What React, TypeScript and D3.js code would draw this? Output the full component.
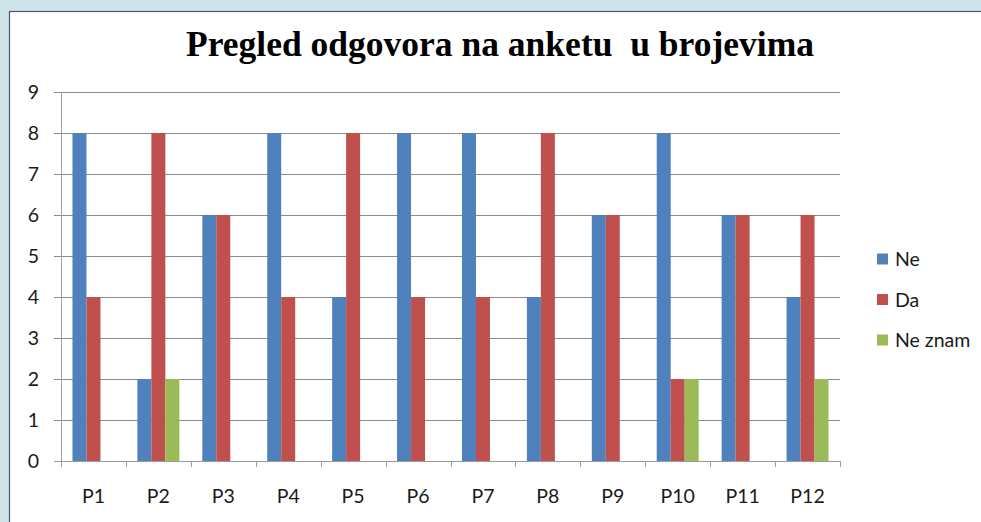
import React from "react";
import * as d3 from "d3";

const categories = ["P1", "P2", "P3", "P4", "P5", "P6", "P7", "P8", "P9", "P10", "P11", "P12"];
const seriesNames = ["Ne", "Da", "Ne znam"];
const neValues = [8, 2, 6, 8, 4, 8, 8, 4, 6, 8, 6, 4];
const daValues = [4, 8, 6, 4, 8, 4, 4, 8, 6, 2, 6, 6];
const neZnamValues = [0, 2, 0, 0, 0, 0, 0, 0, 0, 2, 0, 2];
const yTicks = [0, 1, 2, 3, 4, 5, 6, 7, 8, 9];
const colors = ["#4F81BD", "#C0504D", "#9BBB59"];
const title = "Pregled odgovora na anketu  u brojevima";

export default function App() {
  const W = 981, H = 522;
  const left = 61, right = 840, top = 92, bottom = 461;
  const series = [neValues, daValues, neZnamValues];
  const x0 = d3.scaleBand<string>().domain(categories).range([left, right]).padding(0);
  const x1 = d3.scaleBand<string>().domain(seriesNames).range([0, x0.bandwidth()]).paddingInner(0).paddingOuter(0.82);
  const y = d3.scaleLinear().domain([0, 9]).range([bottom, top]);
  const font = "Lato, 'Open Sans', sans-serif";
  const fs = 19.5;
  const boundaries = d3.range(categories.length + 1).map(i => left + i * x0.step());

  return (
    <svg width={W} height={H} style={{ position: "absolute", left: 0, top: 0 }}>
      <rect x={0} y={0} width={W} height={H} fill="#cfe3eb" />
      <rect x={9.5} y={11.5} width={W} height={H} fill="#ffffff" stroke="#4b5966" strokeWidth={1.2} />
      <text x={500} y={56} textAnchor="middle" textLength={628} lengthAdjust="spacingAndGlyphs" fontFamily="'Liberation Serif', 'Times New Roman', serif" fontWeight="bold" fontSize={35.5} style={{ whiteSpace: "pre" }} fill="#000">
        {title}
      </text>
      {yTicks.map(t => (
        <g key={t}>
          <line x1={54} x2={right} y1={Math.round(y(t)) + 0.5} y2={Math.round(y(t)) + 0.5} stroke={t === 0 ? "#9a9a9a" : "#8c8c8c"} strokeWidth={1} />
          <text x={39} y={y(t)} dy="0.36em" textAnchor="end" fontFamily={font} fontSize={fs} fill="#1a1a1a">{t}</text>
        </g>
      ))}
      <line x1={left + 0.5} x2={left + 0.5} y1={top} y2={bottom} stroke="#a0a0a0" />
      {boundaries.map((b, i) => (
        <line key={i} x1={Math.round(b) + 0.5} x2={Math.round(b) + 0.5} y1={bottom} y2={bottom + 6} stroke="#a0a0a0" />
      ))}
      {categories.map((c, i) => (
        <g key={c}>
          {series.map((vals, s) => vals[i] > 0 ? (
            <rect key={s} x={(x0(c) as number) + (x1(seriesNames[s]) as number)} y={y(vals[i])} width={x1.bandwidth()} height={y(0) - y(vals[i])} fill={colors[s]} />
          ) : null)}
          <text x={(x0(c) as number) + x0.bandwidth() / 2} y={503} textAnchor="middle" fontFamily={font} fontSize={fs} fill="#1a1a1a">{c}</text>
        </g>
      ))}
      {seriesNames.map((n, s) => (
        <g key={n} transform={`translate(877, ${259 + s * 40.5})`}>
          <rect x={0} y={-5.5} width={11} height={11} fill={colors[s]} />
          <text x={18} y={0} dy="0.36em" fontFamily={font} fontSize={fs} fill="#1a1a1a">{n}</text>
        </g>
      ))}
    </svg>
  );
}
